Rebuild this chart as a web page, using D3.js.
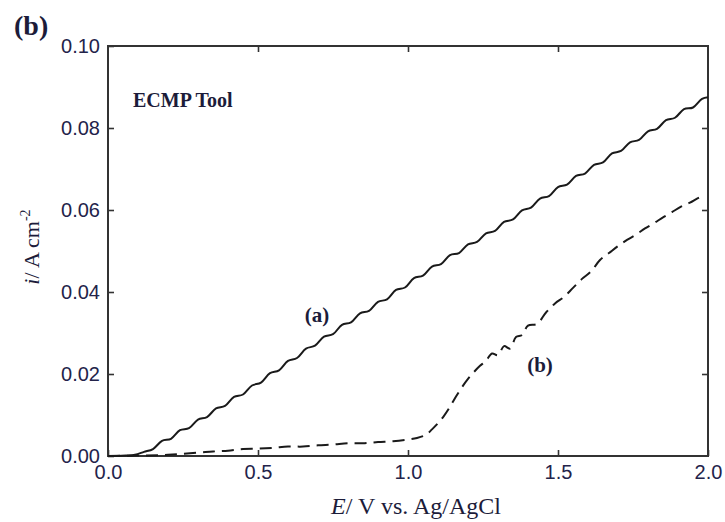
<!DOCTYPE html>
<html>
<head>
    <title>ECMP Tool current vs potential</title>
    <style>
        body, html {
            margin: 0;
            padding: 0;
            background: #fff;
            overflow: hidden;
        }
        .tick-label {
            font-family: "Liberation Sans", Arial, sans-serif;
            font-size: 20px;
            fill: #23234a;
        }
        .serif {
            font-family: "Liberation Serif", "Times New Roman", serif;
            fill: #1c1c3a;
        }
    </style>
    <script src="https://d3js.org/d3.v7.min.js"></script>
</head>
<body>

<svg id="chart" width="725" height="522"></svg>

<script>
// curve (a): solid
const eA = [0, 0.03, 0.06, 0.09, 0.12, 0.15, 0.18, 0.21, 0.24, 0.27, 0.30, 0.33, 0.36, 0.39, 0.42, 0.45,
    0.48, 0.51, 0.54, 0.57, 0.60, 0.63, 0.66, 0.69, 0.72, 0.75, 0.78, 0.81, 0.84, 0.87, 0.90, 0.93,
    0.96, 0.99, 1.02, 1.05, 1.08, 1.11, 1.14, 1.17, 1.20, 1.23, 1.26, 1.29, 1.32, 1.35, 1.38, 1.41,
    1.44, 1.47, 1.50, 1.53, 1.56, 1.59, 1.62, 1.65, 1.68, 1.71, 1.74, 1.77, 1.80, 1.83, 1.86, 1.89,
    1.92, 1.95, 1.98, 2.00];
const iA = [0, 0.0000, 0.0001, 0.0003, 0.0010, 0.0017, 0.0037, 0.0042, 0.0063, 0.0068, 0.0089, 0.0095,
    0.0116, 0.0122, 0.0144, 0.0150, 0.0172, 0.0179, 0.0202, 0.0209, 0.0232, 0.0239, 0.0262, 0.0269,
    0.0291, 0.0297, 0.0320, 0.0326, 0.0348, 0.0354, 0.0376, 0.0382, 0.0405, 0.0411, 0.0434, 0.0440,
    0.0462, 0.0468, 0.0490, 0.0495, 0.0516, 0.0522, 0.0543, 0.0549, 0.0571, 0.0577, 0.0599, 0.0606,
    0.0628, 0.0634, 0.0656, 0.0662, 0.0683, 0.0689, 0.0710, 0.0716, 0.0738, 0.0744, 0.0765, 0.0771,
    0.0792, 0.0798, 0.0819, 0.0825, 0.0846, 0.0850, 0.0871, 0.0875];

// curve (b): dashed
const eB = [0, 0.1, 0.2, 0.3, 0.35, 0.4, 0.45, 0.5, 0.55, 0.6, 0.65, 0.7, 0.75, 0.8, 0.85, 0.9, 0.95,
    1.0, 1.03, 1.06, 1.08, 1.10, 1.12, 1.14, 1.16, 1.18, 1.20, 1.22, 1.24, 1.26, 1.28, 1.30, 1.32,
    1.34, 1.36, 1.38, 1.40, 1.43, 1.46, 1.49, 1.52, 1.55, 1.58, 1.61, 1.64, 1.67, 1.70, 1.73, 1.76,
    1.79, 1.82, 1.85, 1.88, 1.91, 1.94, 1.97, 1.99];
const iB = [0, 0.0001, 0.0003, 0.0008, 0.0011, 0.0013, 0.0017, 0.0018, 0.0020, 0.0023, 0.0023, 0.0026,
    0.0028, 0.0031, 0.0031, 0.0034, 0.0036, 0.0040, 0.0044, 0.0052, 0.0065, 0.0080, 0.0098, 0.0120,
    0.0145, 0.0168, 0.0188, 0.0205, 0.0220, 0.0232, 0.0250, 0.0246, 0.0268, 0.0262, 0.0290, 0.0295,
    0.0318, 0.0322, 0.0350, 0.0372, 0.0388, 0.0410, 0.0432, 0.0450, 0.0478, 0.0495, 0.0512, 0.0527,
    0.0540, 0.0555, 0.0568, 0.0582, 0.0595, 0.0608, 0.0618, 0.0630, 0.0635];

const xTicks = [0, 0.5, 1.0, 1.5, 2.0];
const yTicks = [0, 0.02, 0.04, 0.06, 0.08, 0.10];

const svg = d3.select('#chart');
const margin = {left: 108, top: 46, right: 17, bottom: 66};
const width = 725 - margin.left - margin.right;
const height = 522 - margin.top - margin.bottom;

const g = svg.append('g')
    .attr('transform', `translate(${margin.left},${margin.top})`);

const x = d3.scaleLinear().domain([0, 2]).range([0, width]);
const y = d3.scaleLinear().domain([0, 0.1]).range([height, 0]);

// axes, ticks pointing inward
const xAxis = g.append('g')
    .attr('transform', `translate(0,${height})`)
    .call(d3.axisBottom(x).tickValues(xTicks).tickFormat(d3.format('.1f'))
        .tickSize(-6).tickPadding(9));
const xTop = g.append('g')
    .call(d3.axisTop(x).tickValues(xTicks.slice(1, -1)).tickFormat('').tickSize(-6));
const yAxis = g.append('g')
    .call(d3.axisLeft(y).tickValues(yTicks).tickFormat(d3.format('.2f'))
        .tickSize(-6).tickPadding(8));
const yRight = g.append('g')
    .attr('transform', `translate(${width},0)`)
    .call(d3.axisRight(y).tickValues(yTicks.slice(1, -1)).tickFormat('').tickSize(-6));

[xAxis, xTop, yAxis, yRight].forEach(a => {
    a.select('.domain').remove();
    a.selectAll('line').attr('stroke', '#333').attr('stroke-width', 1.6);
    a.selectAll('text').attr('class', 'tick-label').attr('font-size', null).attr('font-family', null).attr('fill', null);
});

g.append('rect')
    .attr('width', width)
    .attr('height', height)
    .attr('fill', 'none')
    .attr('stroke', '#333')
    .attr('stroke-width', 2);

const lineA = d3.line()
    .x((d, k) => x(eA[k]))
    .y(d => y(d))
    .curve(d3.curveCatmullRom);

const lineB = d3.line()
    .x((d, k) => x(eB[k]))
    .y(d => y(d))
    .curve(d3.curveCatmullRom);

g.append('path')
    .datum(iA)
    .attr('d', lineA)
    .attr('fill', 'none')
    .attr('stroke', '#1a1a1a')
    .attr('stroke-width', 2);

g.append('path')
    .datum(iB)
    .attr('d', lineB)
    .attr('fill', 'none')
    .attr('stroke', '#1a1a1a')
    .attr('stroke-width', 2)
    .attr('stroke-dasharray', '12,7');

// labels
svg.append('text')
    .attr('class', 'serif')
    .attr('x', 14).attr('y', 35)
    .attr('font-size', 28).attr('font-weight', 'bold')
    .text('(b)');

svg.append('text')
    .attr('class', 'serif')
    .attr('x', 133).attr('y', 107)
    .attr('font-size', 20).attr('font-weight', 'bold')
    .text('ECMP Tool');

g.append('text')
    .attr('class', 'serif')
    .attr('x', x(0.697)).attr('y', y(0.0326))
    .attr('text-anchor', 'middle')
    .attr('font-size', 21).attr('font-weight', 'bold')
    .text('(a)');

g.append('text')
    .attr('class', 'serif')
    .attr('x', x(1.44)).attr('y', y(0.0205))
    .attr('text-anchor', 'middle')
    .attr('font-size', 21).attr('font-weight', 'bold')
    .text('(b)');

const xl = svg.append('text')
    .attr('class', 'serif')
    .attr('x', 416).attr('y', 514)
    .attr('text-anchor', 'middle')
    .attr('font-size', 24);
xl.append('tspan').attr('font-style', 'italic').text('E');
xl.append('tspan').text('/ V vs. Ag/AgCl');

const yl = svg.append('text')
    .attr('class', 'serif')
    .attr('transform', 'translate(39,247) rotate(-90)')
    .attr('text-anchor', 'middle')
    .attr('font-size', 22);
yl.append('tspan').attr('font-style', 'italic').text('i');
yl.append('tspan').text('/ A cm');
yl.append('tspan').attr('font-size', 14).attr('dy', -9).text('-2');
</script>

</body>
</html>
